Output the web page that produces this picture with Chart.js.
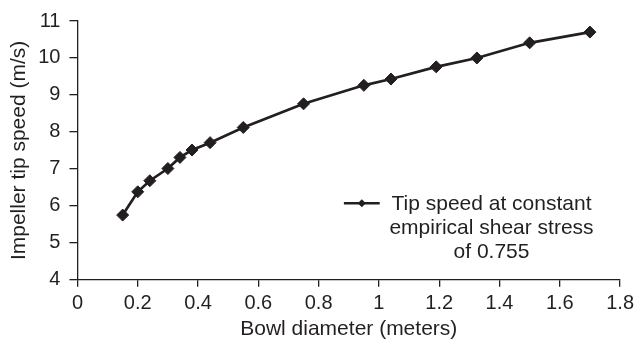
<!DOCTYPE html>
<html>
<head>
<meta charset="utf-8">
<script src="https://cdn.jsdelivr.net/npm/chart.js@4.4.1/dist/chart.umd.min.js"></script>
<style>
  html, body { margin: 0; padding: 0; background: #fff; }
  #wrap { width: 639px; height: 343px; }
</style>
</head>
<body>
<div id="wrap"><canvas id="tipChart" width="639" height="343"></canvas></div>
<script>
/* ---- data ---- */
const diameters = [0.15, 0.2, 0.24, 0.3, 0.34, 0.38, 0.44, 0.55, 0.75, 0.95, 1.04, 1.19, 1.325, 1.5, 1.7];
const tipSpeeds = [5.75, 6.38, 6.68, 7.01, 7.31, 7.51, 7.71, 8.12, 8.76, 9.26, 9.43, 9.76, 10.0, 10.41, 10.7];
const xTicks = [0, 0.2, 0.4, 0.6, 0.8, 1, 1.2, 1.4, 1.6, 1.8];
const yTicks = [4, 5, 6, 7, 8, 9, 10, 11];
const legendLines = ['Tip speed at constant', 'empirical shear stress', 'of 0.755'];

const INK = '#231f20';
const FONT = "'Liberation Sans', Arial, sans-serif";

// legend drawn inside the plot, right side
const insideLegend = {
  id: 'insideLegend',
  afterDraw(chart) {
    const { ctx, chartArea: { left, top, right, bottom } } = chart;
    const w = right - left, h = bottom - top;
    const ly = top + h * 0.704;
    const lx0 = left + w * 0.491, lx1 = left + w * 0.557;
    ctx.save();
    ctx.strokeStyle = INK;
    ctx.lineWidth = 2.5;
    ctx.beginPath();
    ctx.moveTo(lx0, ly);
    ctx.lineTo(lx1, ly);
    ctx.stroke();
    const mx = (lx0 + lx1) / 2, r = 4;
    ctx.fillStyle = INK;
    ctx.beginPath();
    ctx.moveTo(mx, ly - r);
    ctx.lineTo(mx + r, ly);
    ctx.lineTo(mx, ly + r);
    ctx.lineTo(mx - r, ly);
    ctx.closePath();
    ctx.fill();

    ctx.font = `21px ${FONT}`;
    ctx.textAlign = 'center';
    ctx.textBaseline = 'middle';
    const cx = left + w * 0.763;
    legendLines.forEach((t, i) => ctx.fillText(t, cx, ly + 1 + i * 24));
    ctx.restore();
  }
};

new Chart(document.getElementById('tipChart'), {
  type: 'line',
  data: {
    datasets: [{
      label: legendLines.join(' '),
      data: diameters.map((d, i) => ({ x: d, y: tipSpeeds[i] })),
      borderColor: INK,
      backgroundColor: INK,
      borderWidth: 2.7,
      tension: 0,
      pointStyle: 'rectRot',
      pointRadius: 6,
      pointBackgroundColor: INK,
      pointBorderColor: INK,
      pointBorderWidth: 1,
    }]
  },
  options: {
    responsive: false,
    animation: false,
    layout: { padding: { top: 19, right: 15, bottom: 1, left: 0 } },
    plugins: { legend: { display: false }, tooltip: { enabled: false } },
    scales: {
      x: {
        type: 'linear',
        min: 0,
        max: 1.8,
        afterBuildTicks: axis => { axis.ticks = xTicks.map(v => ({ value: v })); },
        grid: { drawOnChartArea: false, color: INK, tickLength: 7, lineWidth: 1.3 },
        border: { color: INK, width: 1.3 },
        ticks: { color: INK, font: { family: FONT, size: 20 }, padding: 5, maxRotation: 0, autoSkip: false,
                 callback: v => String(v) },
        title: { display: true, text: 'Bowl diameter (meters)', color: INK,
                 font: { family: FONT, size: 21 }, padding: { top: -4, bottom: 0 } }
      },
      y: {
        min: 4,
        max: 11,
        afterBuildTicks: axis => { axis.ticks = yTicks.map(v => ({ value: v })); },
        grid: { drawOnChartArea: false, color: INK, tickLength: 8, lineWidth: 1.3 },
        border: { color: INK, width: 1.3 },
        ticks: { color: INK, font: { family: FONT, size: 20 }, padding: 9, callback: v => String(v) },
        title: { display: true, text: 'Impeller tip speed (m/s)', color: INK,
                 font: { family: FONT, size: 21 }, padding: { top: 7, bottom: -3 } }
      }
    }
  },
  plugins: [insideLegend]
});
</script>
</body>
</html>
